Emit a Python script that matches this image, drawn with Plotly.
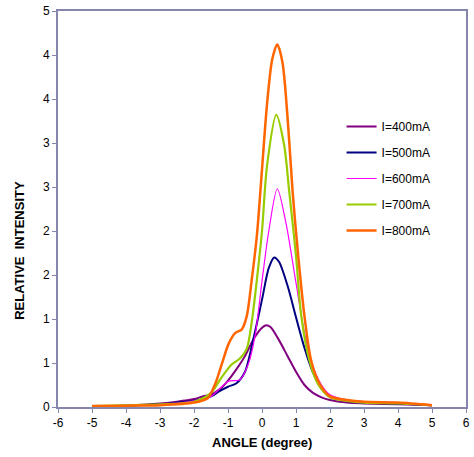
import plotly.graph_objects as go

# Angular intensity profiles for five beam currents
x_400 = [-5, -4, -3, -2.5, -2, -1.75, -1.5, -1.25, -1, -0.75, -0.5, -0.25, 0, 0.12, 0.25, 0.5, 0.75, 1, 1.25, 1.5, 1.75, 2, 2.5, 3, 4, 5]
y_400 = [0.01, 0.015, 0.04, 0.06, 0.09, 0.12, 0.14, 0.20, 0.30, 0.43, 0.58, 0.77, 0.90, 0.93, 0.91, 0.76, 0.58, 0.40, 0.25, 0.16, 0.11, 0.08, 0.05, 0.04, 0.03, 0.02]

x_500 = [-5, -4, -3, -2.5, -2, -1.75, -1.5, -1.25, -1, -0.75, -0.5, -0.25, 0, 0.2, 0.36, 0.5, 0.75, 1, 1.25, 1.5, 1.75, 2, 2.5, 3, 4, 5]
y_500 = [0.01, 0.015, 0.03, 0.05, 0.07, 0.09, 0.12, 0.18, 0.23, 0.27, 0.40, 0.78, 1.22, 1.58, 1.70, 1.65, 1.38, 1.02, 0.67, 0.39, 0.21, 0.12, 0.07, 0.05, 0.04, 0.02]

x_600 = [-5, -4, -3, -2, -1.5, -1.0, -0.65, -0.4, -0.2, 0, 0.2, 0.45, 0.7, 1.0, 1.25, 1.5, 1.75, 2, 2.5, 3, 4, 5]
y_600 = [0.01, 0.02, 0.03, 0.07, 0.12, 0.29, 0.31, 0.49, 0.82, 1.43, 2.00, 2.48, 2.10, 1.41, 0.84, 0.46, 0.25, 0.14, 0.08, 0.06, 0.05, 0.02]

x_700 = [-5, -4, -3, -2, -1.5, -1.2, -0.9, -0.65, -0.45, -0.3, -0.15, 0, 0.15, 0.42, 0.65, 0.8, 1.0, 1.15, 1.4, 1.65, 2.0, 2.5, 3, 4, 5]
y_700 = [0.01, 0.02, 0.03, 0.06, 0.16, 0.33, 0.48, 0.55, 0.66, 0.97, 1.45, 2.00, 2.75, 3.32, 2.98, 2.45, 1.72, 1.05, 0.52, 0.26, 0.11, 0.07, 0.05, 0.04, 0.02]

x_800 = [-5, -4, -3, -2, -1.6, -1.37, -1.18, -0.98, -0.79, -0.6, -0.45, -0.3, -0.15, 0, 0.15, 0.3, 0.45, 0.6, 0.75, 0.9, 1.05, 1.25, 1.45, 1.7, 2.0, 2.5, 3, 4, 5]
y_800 = [0.01, 0.015, 0.02, 0.05, 0.10, 0.27, 0.49, 0.72, 0.84, 0.88, 1.03, 1.45, 1.95, 2.70, 3.45, 3.95, 4.12, 3.92, 3.30, 2.45, 1.78, 1.03, 0.52, 0.26, 0.12, 0.08, 0.06, 0.05, 0.02]

series_names = ["I=400mA", "I=500mA", "I=600mA", "I=700mA", "I=800mA"]
series_x = [x_400, x_500, x_600, x_700, x_800]
series_y = [y_400, y_500, y_600, y_700, y_800]
series_colors = ["#800080", "#000080", "#FF00FF", "#99CC00", "#FF6600"]
series_widths = [2, 2, 1.2, 2.2, 2.5]

# Y ticks every 0.5, labelled with whole numbers (rounded half up)
y_tickvals = [0, 0.5, 1, 1.5, 2, 2.5, 3, 3.5, 4, 4.5]
y_ticktext = ["0", "1", "1", "2", "2", "3", "3", "4", "4", "5"]
x_tickvals = [-6, -5, -4, -3, -2, -1, 0, 1, 2, 3, 4, 5, 6]
x_ticktext = ["-6", "-5", "-4", "-3", "-2", "-1", "0", "1", "2", "3", "4", "5", "6"]

fig = go.Figure()
for name, xs, ys, col, w in zip(series_names, series_x, series_y, series_colors, series_widths):
    fig.add_trace(go.Scatter(
        x=xs, y=ys, name=name, mode="lines",
        line=dict(color=col, width=w, shape="spline", smoothing=0.8),
        legendgroup=name,
    ))

frame_color = "#8585AD"
fig.update_layout(
    width=474, height=457, autosize=False,
    margin=dict(l=58, r=4, t=11, b=50),
    paper_bgcolor="white", plot_bgcolor="white",
    font=dict(family="Liberation Sans, Arial, sans-serif", size=12, color="black"),
    showlegend=True,
    legend=dict(
        x=0.695, y=0.745, xanchor="left", yanchor="top",
        bgcolor="rgba(0,0,0,0)", borderwidth=0,
        tracegroupgap=7, itemwidth=30,
        font=dict(size=12, color="black"),
    ),
    xaxis=dict(
        range=[-6, 6], tickvals=x_tickvals, ticktext=x_ticktext,
        ticks="outside", ticklen=4,
        tickcolor=frame_color, tickwidth=1,
        showline=True, linecolor=frame_color, linewidth=2, mirror=True,
        showgrid=False, zeroline=False, tickfont=dict(size=12),
    ),
    yaxis=dict(
        range=[0, 4.5], tickvals=y_tickvals, ticktext=y_ticktext,
        ticks="outside", ticklen=4, tickcolor=frame_color, tickwidth=1,
        showline=True, linecolor=frame_color, linewidth=2, mirror=True,
        showgrid=False, zeroline=False, tickfont=dict(size=12),
    ),
    annotations=[
        dict(text="<b>ANGLE (degree)</b>", xref="paper", yref="paper",
             x=0.5, y=-0.066, xanchor="center", yanchor="top",
             showarrow=False, font=dict(size=13)),
        dict(text="<b>RELATIVE  INTENSITY</b>", xref="paper", yref="paper",
             x=-0.095, y=0.395, xanchor="center", yanchor="middle",
             textangle=-90, showarrow=False, font=dict(size=13)),
    ],
)

fig.write_html("out.html")
